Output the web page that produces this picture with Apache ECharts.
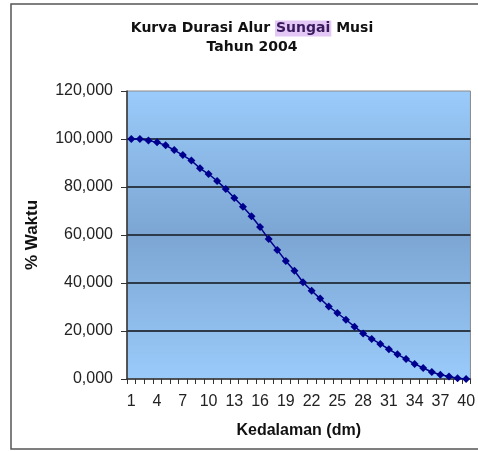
<!DOCTYPE html>
<html>
<head>
<meta charset="utf-8">
<script src="https://cdn.jsdelivr.net/npm/echarts@6/dist/echarts.min.js"></script>
<style>
html,body{margin:0;padding:0;background:#fff;}
#main{width:478px;height:451px;}
</style>
</head>
<body>
<div id="main"></div>
<script>
/*kedalaman (dm)*/
var kedalaman = [1,2,3,4,5,6,7,8,9,10,11,12,13,14,15,16,17,18,19,20,
	21,22,23,24,25,26,27,28,29,30,31,32,33,34,35,36,37,38,39,40];
/*% waktu*/
var waktu = [100.0,100.0,99.4,98.6,97.4,95.4,93.3,91.0,87.8,85.4,
	82.5,79.2,75.4,71.8,67.8,63.3,58.3,53.8,49.2,45.1,
	40.3,36.8,33.5,30.2,27.5,24.7,21.8,19.0,16.7,14.6,
	12.4,10.3,8.3,6.3,4.6,2.9,1.8,1.0,0.3,0.0];
var yTicks = [0,20,40,60,80,100,120];

var chart = echarts.init(document.getElementById('main'));
var option = {
	backgroundColor : '#ffffff',
	animation : false,
	title : {
		text : '{a|Kurva Durasi Alur }{h|Sungai}{a| Musi}\n{a|Tahun 2004}',
		left : 247,
		top : 14,
		textAlign : 'center',
		textStyle : {
			rich : {
				a : {fontFamily:'DejaVu Sans',fontWeight:'bold',fontSize:14,color:'#111',lineHeight:19},
				h : {fontFamily:'DejaVu Sans',fontWeight:'bold',fontSize:14,color:'#3a1a5e',lineHeight:19,backgroundColor:'#e3c8f5',padding:[1,1,1,1]}
			}
		}
	},
	graphic : [ {
		type : 'rect',
		shape : {x:11,y:4,width:480,height:445},
		style : {fill:null,stroke:'#555',lineWidth:1.5},
		silent : true
	} ],
	grid : {
		left : 127,
		right : 4,
		top : 91,
		bottom : 72,
		show : true,
		borderColor : '#8a8a8a',
		borderWidth : 1,
		backgroundColor : new echarts.graphic.LinearGradient(0,0,0,1,[
			{offset:0,color:'#9acbfa'},
			{offset:0.5,color:'#7ca5d3'},
			{offset:1,color:'#9acbfa'}
		])
	},
	xAxis : {
		type : 'category',
		data : kedalaman,
		boundaryGap : true,
		name : 'Kedalaman (dm)',
		nameLocation : 'middle',
		nameGap : 44,
		nameTextStyle : {fontFamily:'Liberation Sans',fontWeight:'bold',fontSize:16,color:'#111'},
		axisLine : {lineStyle:{color:'#333',width:1.5}},
		axisTick : {show:true,interval:0,length:5,lineStyle:{color:'#333'}},
		axisLabel : {interval:2,margin:15,fontFamily:'Liberation Sans',fontSize:16,color:'#222'},
		splitLine : {show:false}
	},
	yAxis : {
		type : 'value',
		min : yTicks[0],
		max : yTicks[yTicks.length-1],
		interval : 20,
		name : '% Waktu',
		nameLocation : 'middle',
		nameGap : 86,
		nameRotate : 90,
		nameTextStyle : {fontFamily:'Liberation Sans',fontWeight:'bold',fontSize:17,color:'#111'},
		axisLine : {show:true,lineStyle:{color:'#333',width:1.5}},
		axisTick : {show:true,length:6,lineStyle:{color:'#333'}},
		axisLabel : {
			margin : 14,
			fontFamily : 'Liberation Sans',
			fontSize : 16,
			color : '#222',
			formatter : function(v){ return v.toFixed(3).replace('.', ','); }
		},
		splitLine : {show:true,showMinLine:false,showMaxLine:false,lineStyle:{color:'#2c3a4a',width:2}}
	},
	series : [ {
		type : 'line',
		data : waktu,
		symbol : 'diamond',
		symbolSize : 8,
		showSymbol : true,
		showAllSymbol : true,
		itemStyle : {color:'#00008e'},
		lineStyle : {color:'#00008e',width:1.5}
	} ]
};
chart.setOption(option);
</script>
</body>
</html>
